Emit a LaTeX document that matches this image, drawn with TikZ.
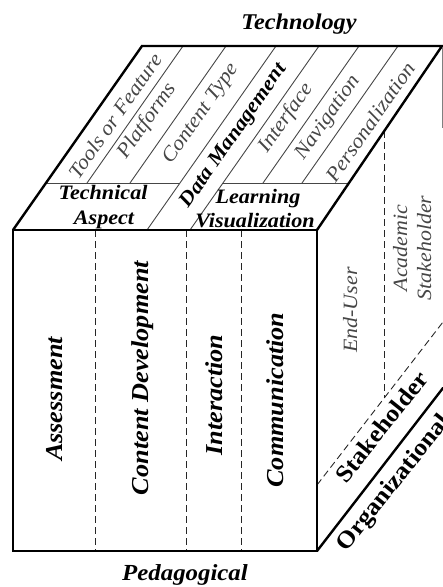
\documentclass[tikz,border=0pt]{standalone}
\usepackage{fontspec}
\setmainfont{Liberation Serif}[FakeStretch=1.08]
\definecolor{txtgray}{RGB}{70,70,70}
\definecolor{lngray}{RGB}{70,70,70}
\begin{document}
\begin{tikzpicture}[x=1pt,y=-1pt,
  edge/.style={line width=2.4pt, line join=miter, line cap=round},
  fine/.style={line width=0.9pt, draw=lngray},
  dline/.style={line width=0.9pt, dash pattern=on 7pt off 4pt, draw=black!85},
  lbl/.style={inner sep=0pt},
  title/.style={lbl, anchor=base, font=\fontsize{22.5}{24}\selectfont\bfseries\itshape},
  front/.style={lbl, anchor=base, rotate=90, font=\fontsize{24.3}{26}\selectfont\bfseries\itshape},
  topbold/.style={lbl, anchor=base, font=\fontsize{20.5}{22}\selectfont\bfseries\itshape},
  topit/.style={lbl, rotate=55, text=txtgray, font=\fontsize{20.5}{22}\selectfont\itshape},
  sideit/.style={lbl, anchor=base, rotate=90, text=txtgray, font=\fontsize{20.3}{22}\selectfont\itshape},
  sidebold/.style={lbl, anchor=base, rotate=51.3, font=\fontsize{24}{26}\selectfont\bfseries}
]
\useasboundingbox (0,0) rectangle (443,587);
% corners
\coordinate (FTL) at (13,230);
\coordinate (FTR) at (317,230);
\coordinate (FBL) at (13,551);
\coordinate (FBR) at (317,551);
\coordinate (BTL) at (142,46);
\coordinate (BTR) at (442,46);
\coordinate (RBB) at (443,388);
% top face inner lines
\coordinate (h1a) at (46,183);  \coordinate (h1b) at (180,183);
\coordinate (h2a) at (223,183); \coordinate (h2b) at (350,183);
\draw[fine] (h1a) -- (h1b);
\draw[fine] (h2a) -- (h2b);
\foreach \x in {54,97,230,269} {
  \draw[fine] (\x+33,183) -- (\x+129,46);
}
\foreach \x in {147,190} {
  \draw[fine] (\x,230) -- (\x+129,46);
}
% front dashed
\foreach \x in {95,186,241} {
  \draw[dline] (\x,230) -- (\x,551);
}
% right face dashed
\coordinate (dA) at (317,485);
\coordinate (dB) at (443,322);
\coordinate (vT) at (384,131);
\coordinate (vB) at (384,398);
\draw[dline] (dA) -- (dB);
\draw[dline] (vT) -- (vB);
% outline
\draw[edge] (FTL) rectangle (FBR);
\draw[edge] (FTL) -- (BTL) -- (BTR) -- (FTR);
\draw[edge] (FBR) -- (RBB);
\draw[line width=0.8pt, draw=black!50] (442.3,48) -- (442.3,128);
% titles
\node[title] (tech) at (299,29) {Technology};
\node[title, font=\fontsize{23}{24}\selectfont\bfseries\itshape] (peda) at (185,580) {Pedagogical};
% front labels
\node[front] (ass) at (62,399) {Assessment};
\node[front] (cdev) at (148,378) {Content Development};
\node[front] (inter) at (222,395) {Interaction};
\node[front] (comm) at (283,400) {Communication};
% top labels
\node[topbold] (tech1) at (103,199) {Technical};
\node[topbold] (tech2) at (104,224) {Aspect};
\node[topbold] (lv1) at (258,203) {Learning};
\node[topbold] (lv2) at (255,227) {Visualization};
\node[topit] (tools) at (115,116) {Tools or Feature};
\node[topit] (plat) at (147,121) {Platforms};
\node[topit] (ctype) at (201,114) {Content Type};
\node[topit, text=black, font=\fontsize{20.5}{22}\selectfont\bfseries\itshape] (dm) at (234,136) {Data Management};
\node[topit] (intf) at (286,118) {Interface};
\node[topit] (nav) at (328,118) {Navigation};
\node[topit] (pers) at (370,122) {Personalization};
% right face labels
\node[sideit] (enduser) at (357,310) {End-User};
\node[sideit] (acad) at (407,248) {Academic};
\node[sideit] (stake2) at (431,248) {Stakeholder};
\node[sidebold] (stake) at (388,432) {Stakeholder};
\node[sidebold] (org) at (399,487) {Organizational};
\end{tikzpicture}
\end{document}
